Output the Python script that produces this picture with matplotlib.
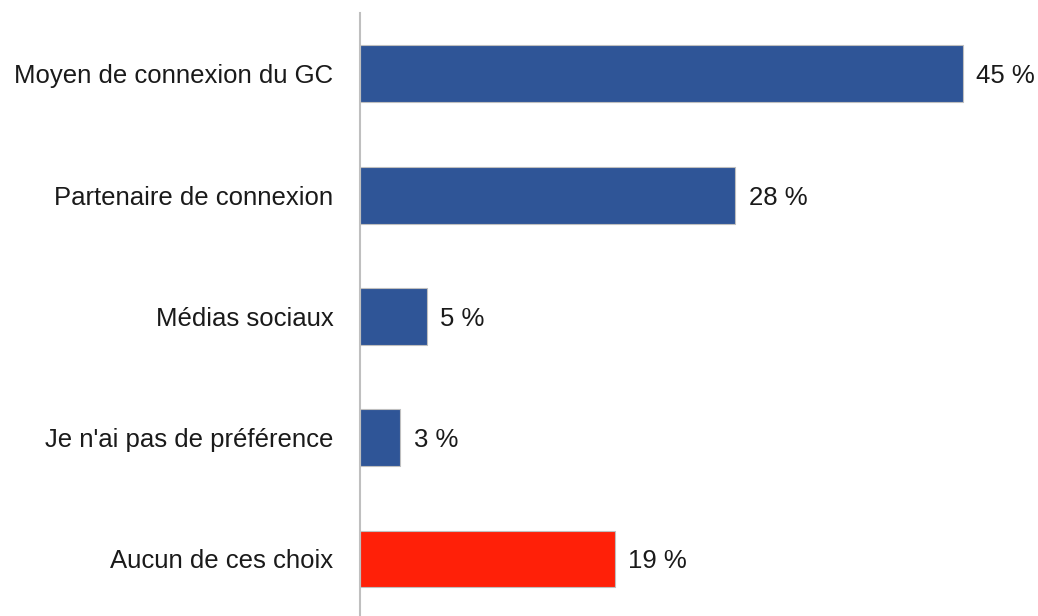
import matplotlib.pyplot as plt

# Survey answers, top to bottom
categories = ["Moyen de connexion du GC", "Partenaire de connexion",
              "Médias sociaux", "Je n'ai pas de préférence", "Aucun de ces choix"]
values = [45, 28, 5, 3, 19]
bar_colors = ["#2F5597", "#2F5597", "#2F5597", "#2F5597", "#FF2008"]

plt.rcParams['font.family'] = ['Liberation Sans', 'DejaVu Sans']

fig = plt.figure(figsize=(10.38, 6.16), dpi=100)
ax = fig.add_axes([360 / 1038, 0, 1 - 360 / 1038, 1 - 13 / 616])

pos = list(range(len(categories)))
ax.barh(pos, values, height=0.47, color=bar_colors,
        edgecolor="#BFBFBF", linewidth=0.8)

ax.set_xlim(0, 678 / 13.4)
ax.set_ylim(4 + 57 / 121.25, -0.503)

for p, v in zip(pos, values):
    ax.text(v + 1.0, p, f"{v} %", va="center_baseline", ha="left",
            fontsize=18.5, color="#1A1A1A")

ax.set_yticks(pos)
ax.set_yticklabels(categories, fontsize=18.5, color="#1A1A1A")
ax.tick_params(axis="y", length=0, pad=19)
ax.set_xticks([])

for side in ["top", "right", "bottom"]:
    ax.spines[side].set_visible(False)
ax.spines["left"].set_color("#BFBFBF")
ax.spines["left"].set_linewidth(1.5)

fig.savefig("out.png", dpi=100)
